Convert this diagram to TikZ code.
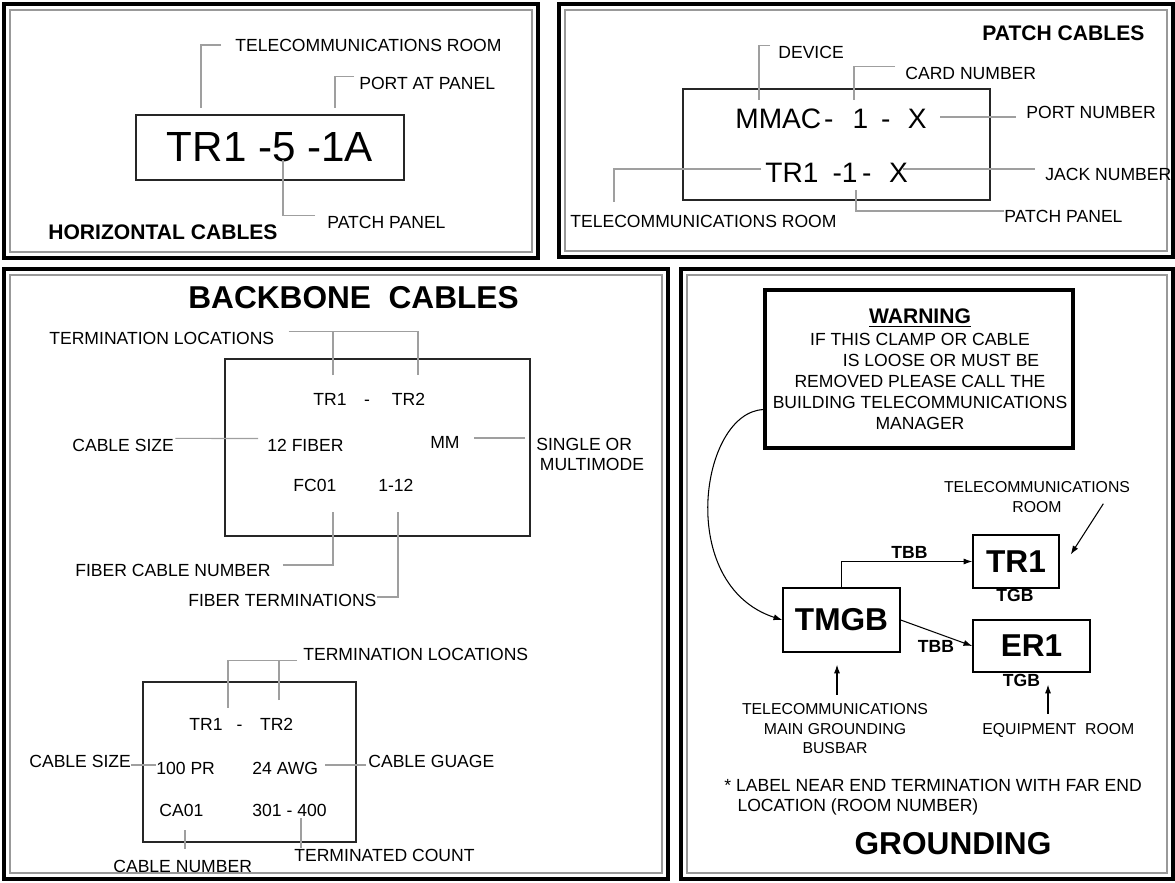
\documentclass[tikz,border=0pt]{standalone}
\usepackage{fontspec}
\setmainfont{Liberation Sans}
\usetikzlibrary{arrows.meta,calc}

\begin{document}
\begin{tikzpicture}[x=0.02cm,y=-0.02cm,
  lbl/.style={inner sep=0pt,font=\fontsize{10}{11.5}\selectfont},
  sml/.style={inner sep=0pt,font=\fontsize{9}{11}\selectfont},
  hdr/.style={inner sep=0pt,font=\fontsize{12}{14}\selectfont\bfseries},
  ttl/.style={inner sep=0pt,font=\fontsize{18}{20}\selectfont\bfseries},
  tag/.style={inner sep=0pt,font=\fontsize{10}{12}\selectfont\bfseries},
  lead/.style={draw=gray!75,line width=0.6pt},
  plate/.style={draw=black!85,line width=0.7pt,inner sep=0pt},
  gbox/.style={draw,line width=0.8pt,inner sep=0pt,font=\fontsize{18}{20}\selectfont\bfseries},
  arr/.style={-{Latex[length=5pt,width=3.5pt]},line width=0.6pt},
  outerframe/.style={line width=0.08cm},
  innerframe/.style={draw=gray!80,line width=0.6pt}]
\useasboundingbox (0,0) rectangle (1175,882);

% panel frames
\draw[outerframe] (4,4) rectangle (538,258);
\draw[innerframe] (10,10) rectangle (532,252);
\draw[outerframe] (559,4) rectangle (1173,257);
\draw[innerframe] (565,10) rectangle (1167,251);
\draw[outerframe] (4,269) rectangle (668,879);
\draw[innerframe] (10,275) rectangle (662,873);
\draw[outerframe] (681,269) rectangle (1173,879);
\draw[innerframe] (687,275) rectangle (1167,873);

% horizontal cables
\node[lbl,anchor=west] (H1) at (235,45) {TELECOMMUNICATIONS ROOM};
\node[lbl,anchor=west] (H2) at (359,83) {PORT AT PANEL};
\node[plate,minimum width=5.36cm,minimum height=1.3cm,font=\fontsize{24}{26}\selectfont] (H3) at (270,147.5) {TR1 -5 -1A};
\node[lbl,anchor=west] (H4) at (327,222) {PATCH PANEL};
\node[hdr,anchor=west] (H5) at (48,232) {HORIZONTAL CABLES};
\coordinate (h1) at (201,108);
\coordinate (h2) at (335,108);
\coordinate (h3) at (283,160);
\draw[lead] (H1.west) ++(-14,0) -| (h1);
\draw[lead] (H2.north west) ++(-5,0) -| (h2);
\draw[lead] (H4.north west) ++(-12,0) -| (h3);

% patch cables
\node[hdr,anchor=west] (P1) at (982,33) {PATCH CABLES};
\node[lbl,anchor=west] (P2) at (778,52) {DEVICE};
\node[lbl,anchor=west] (P3) at (905,73) {CARD NUMBER};
\node[plate,minimum width=6.14cm,minimum height=2.22cm] (P4) at (836.5,144.5) {};
\node[inner sep=0pt,anchor=west,font=\fontsize{16}{18}\selectfont] (P5) at (735,119) {MMAC\hspace{0.1em}-\hspace{0.68em}1\hspace{0.46em}-\hspace{0.62em}X};
\node[lbl,anchor=west] (P6) at (1026,112) {PORT NUMBER};
\node[inner sep=0pt,anchor=west,font=\fontsize{16}{18}\selectfont] (P7) at (765,173) {TR1\hspace{0.5em}-1\hspace{0.16em}-\hspace{0.63em}X};
\node[lbl,anchor=west] (P8) at (570,221) {TELECOMMUNICATIONS ROOM};
\node[lbl,anchor=west] (P9) at (1045,174) {JACK NUMBER};
\node[lbl,anchor=west] (P10) at (1004,216) {PATCH PANEL};
\coordinate (p2) at (759,100);
\coordinate (p3) at (854,100);
\coordinate (p6) at (940,117);
\coordinate (p8) at (614,202);
\coordinate (p9) at (903,169);
\coordinate (p10) at (856,190);
\draw[lead] (P2.north west) ++(-8,0) -| (p2);
\draw[lead] (P3.north west) ++(-10,0) -| (p3);
\draw[lead] (p6) -- ($(p6 -| P6.west)+(-10,0)$);
\draw[lead] (P7.west) ++(-4,-4) -| (p8);
\draw[lead] (p9) -- ($(p9 -| P9.west)+(-10,0)$);
\draw[lead] (P10.west) ++(0,-5) -| (p10);

% backbone cables
\node[ttl,anchor=west] (B1) at (188,298) {BACKBONE\ \ CABLES};
\node[lbl,anchor=west] (B2) at (49,338) {TERMINATION LOCATIONS};
\node[plate,minimum width=6.1cm,minimum height=3.54cm] (B3) at (377.5,447.5) {};
\node[lbl,anchor=west] (B4) at (313,399) {TR1\hspace{1em}-\hspace{1.25em}TR2};
\node[lbl,anchor=west] (B5) at (72,445) {CABLE SIZE};
\node[lbl,anchor=west] (B6) at (267,445) {12 FIBER};
\node[lbl,anchor=west] (B7) at (430,442) {MM};
\node[lbl,anchor=north west,align=left] (B8) at (536,438) {SINGLE OR\\\hspace*{2pt}MULTIMODE};
\node[lbl,anchor=west] (B9) at (293,485) {FC01};
\node[lbl,anchor=west] (B10) at (378,485) {1-12};
\node[lbl,anchor=west] (B11) at (75,570) {FIBER CABLE NUMBER};
\node[lbl,anchor=west] (B12) at (188,600) {FIBER TERMINATIONS};
\coordinate (b1) at (333,375);
\coordinate (b2) at (418,375);
\coordinate (b3) at (333,512);
\coordinate (b4) at (398,512);
\draw[lead] (B2.north east) ++(14,0) -| (b2);
\draw[lead] (b1) -- (b1 |- B2.north);
\draw[lead] (B5.north east) ++(1,0) -- ($(B6.north west)+(-9,0)$);
\draw[lead] ($(B8.north west)+(-11,0)$) -- ($(B8.north west -| B7.east)+(14,0)$);
\draw[lead] (B11.east) ++(12,-5) -| (b3);
\draw[lead] (B12.east) ++(0,-3) -| (b4);

\node[lbl,anchor=west] (B13) at (303,654) {TERMINATION LOCATIONS};
\node[plate,minimum width=4.26cm,minimum height=3.2cm] (B14) at (249.5,762) {};
\node[lbl,anchor=west] (B15) at (189,724) {TR1\hspace{0.8em}-\hspace{1em}TR2};
\node[lbl,anchor=west] (B16) at (29,761) {CABLE SIZE};
\node[lbl,anchor=west] (B17) at (156,768) {100 PR};
\node[lbl,anchor=west] (B18) at (252,768) {24 AWG};
\node[lbl,anchor=west] (B19) at (368,761) {CABLE GUAGE};
\node[lbl,anchor=west] (B20) at (159,810) {CA01};
\node[lbl,anchor=west] (B21) at (252,810) {301 - 400};
\node[lbl,anchor=west] (B22) at (113,866) {CABLE NUMBER};
\node[lbl,anchor=west] (B23) at (294,855) {TERMINATED COUNT};
\coordinate (b5) at (228,708);
\coordinate (b6) at (279,700);
\coordinate (b7) at (185,830);
\coordinate (b8) at (301,818);
\draw[lead] (B13.south west) ++(-6,0) -| (b5);
\draw[lead] (b6) -- (b6 |- B13.south);
\draw[lead] ($(B16.east)+(0,4)$) -- ($(B17.west)+(0,-3)$);
\draw[lead] ($(B18.east)+(7,-3)$) -- ($(B19.west)+(-2,4)$);
\draw[lead] (b7) -- ($(b7 |- B22.north)+(0,-10)$);
\draw[lead] (b8) -- (b8 |- B23.north);

% grounding
\node[draw,line width=1.8pt,minimum width=6.16cm,minimum height=3.16cm] (G1) at (919,369) {};
\node[hdr,anchor=base] (G2) at (920,323.5) {\underline{WARNING}};
\node[inner sep=0pt,align=center,anchor=north,font=\fontsize{10}{12}\selectfont] (G3) at (920,332.5) {IF THIS CLAMP OR CABLE\\\hspace*{2.4em}IS LOOSE OR MUST BE\\REMOVED PLEASE CALL THE\\BUILDING TELECOMMUNICATIONS\\MANAGER};
\node[sml,align=center,anchor=north] (G4) at (1037,481.5) {TELECOMMUNICATIONS\\ROOM};
\node[gbox,minimum width=1.72cm,minimum height=1.06cm] (G5) at (1016,561.5) {TR1};
\node[gbox,minimum width=2.34cm,minimum height=1.28cm] (G6) at (841.5,620) {TMGB};
\node[gbox,minimum width=2.34cm,minimum height=1.04cm] (G7) at (1031.5,646) {ER1};
\node[tag] (G8) at (909.5,552) {TBB};
\node[tag] (G9) at (1015,595) {TGB};
\node[tag] (G10) at (936,646) {TBB};
\node[tag] (G11) at (1021.5,680) {TGB};
\node[sml,align=center,anchor=north] (G12) at (835,703.5) {TELECOMMUNICATIONS\\MAIN GROUNDING\\BUSBAR};
\node[sml,anchor=west] (G13) at (982,730) {EQUIPMENT\ \ ROOM};
\node[lbl,align=left,anchor=north west] (G14) at (724,778.7) {* LABEL NEAR END TERMINATION WITH FAR END\\\hspace*{0.75em}LOCATION (ROOM NUMBER)};
\node[ttl] (G15) at (953,844) {GROUNDING};

\draw[arr] ($(G1.south west)+(0,-40)$) .. controls (700,412) and (675,585) .. (G6.west);
\draw[arr] (G6.north) |- (G5.west);
\draw[arr] (G6.east) -- (G7.west);
\draw[arr] ($(G4.south east)+(-27,-9)$) -- ($(G5.east)+(11,-7)$);
\draw[arr] ($(G12.north -| G6.south)+(-4.5,-9)$) -- ($(G6.south)+(-4.5,12)$);
\draw[arr] ($(G13.north -| G7.south)+(16.5,-9)$) -- ($(G7.south)+(16.5,12)$);

\end{tikzpicture}
\end{document}
